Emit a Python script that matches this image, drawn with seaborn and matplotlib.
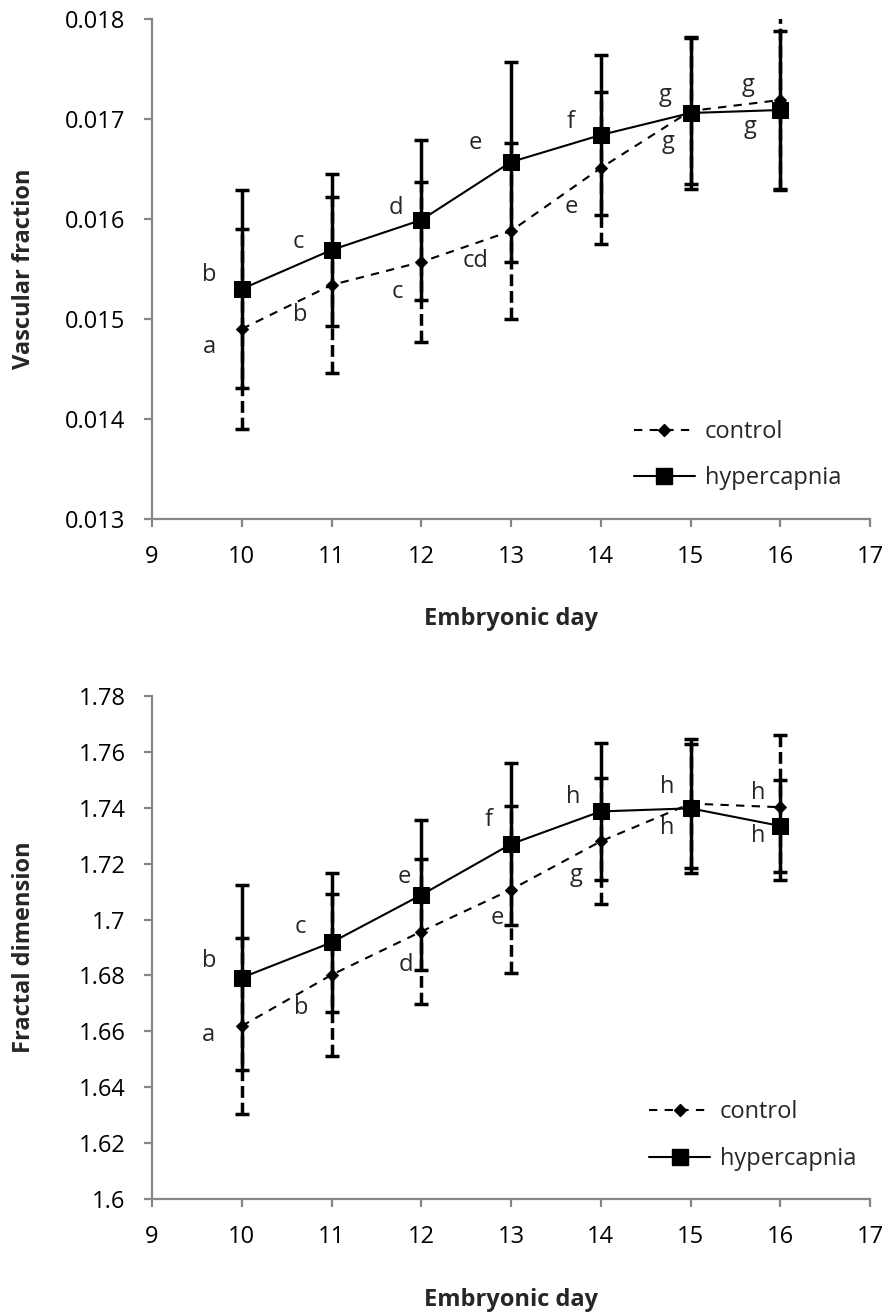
import matplotlib
matplotlib.use('Agg')
import pandas as pd
import matplotlib.pyplot as plt
from matplotlib.lines import Line2D
import seaborn as sns

# ---- data ----
days = [10, 11, 12, 13, 14, 15, 16]
groups = ['control', 'hypercapnia']

# vascular fraction (top panel)
vf_control = [0.01490, 0.01534, 0.01557, 0.01588, 0.01651, 0.01708, 0.01719]
vf_control_err = [0.00100, 0.00088, 0.00080, 0.00088, 0.00076, 0.00073, 0.00090]
vf_hyper = [0.01530, 0.01569, 0.01599, 0.01657, 0.01684, 0.01706, 0.01709]
vf_hyper_err = [0.00099, 0.00076, 0.00080, 0.00100, 0.00080, 0.00076, 0.00079]
vf_control_letters = ['a', 'b', 'c', 'cd', 'e', 'g', 'g']
vf_hyper_letters = ['b', 'c', 'd', 'e', 'f', 'g', 'g']
vf_ticks = [0.013, 0.014, 0.015, 0.016, 0.017, 0.018]
vf_ticklabels = ['0.013', '0.014', '0.015', '0.016', '0.017', '0.018']

# fractal dimension (bottom panel)
fd_control = [1.6619, 1.6802, 1.6957, 1.7107, 1.7280, 1.7415, 1.7402]
fd_control_err = [0.0315, 0.0290, 0.0260, 0.0300, 0.0225, 0.0230, 0.0260]
fd_hyper = [1.6792, 1.6918, 1.7088, 1.7270, 1.7387, 1.7398, 1.7335]
fd_hyper_err = [0.0330, 0.0250, 0.0270, 0.0290, 0.0246, 0.0230, 0.0166]
fd_control_letters = ['a', 'b', 'd', 'e', 'g', 'h', 'h']
fd_hyper_letters = ['b', 'c', 'e', 'f', 'h', 'h', 'h']
fd_ticks = [1.60, 1.62, 1.64, 1.66, 1.68, 1.70, 1.72, 1.74, 1.76, 1.78]
fd_ticklabels = ['1.6', '1.62', '1.64', '1.66', '1.68', '1.7', '1.72', '1.74', '1.76', '1.78']

day_ticks = [9, 10, 11, 12, 13, 14, 15, 16, 17]

# ---- letter placement (pixel offsets from each point) ----
vf_control_off = [(-32, -18), (-31, -30), (-24, -30), (-35, -30), (-29, -39), (-25, 16), (-32, 15)]
vf_hyper_off = [(-33, 14), (-33, 8), (-25, 12), (-36, 19), (-30, 13), (-22, -29), (-30, -17)]
fd_control_off = [(-33, -9), (-30, -33), (-15, -33), (-14, -28), (-25, -34), (-23, 17), (-22, 14)]
fd_hyper_off = [(-33, 17), (-31, 15), (-17, 18), (-22, 24), (-28, 14), (-23, -20), (-22, -10)]

sns.set_style('ticks')
plt.rcParams['font.family'] = ['Open Sans', 'DejaVu Sans']

FS = 17
GREY = '#868686'
CTRL_DASH = (4, 3.5)
W, H = 887, 1315

fig = plt.figure(figsize=(W / 100, H / 100), dpi=100)


def px_axes(left, top, right, bottom):
    return fig.add_axes([left / W, 1 - bottom / H, (right - left) / W, (bottom - top) / H])


def draw_panel(ax, ctrl, ctrl_err, hyp, hyp_err, ctrl_let, hyp_let, ctrl_off, hyp_off,
               ticks, ticklabels, ylabel, leg_xy):
    # error bars: control dashed, hypercapnia solid on top
    eb = ax.errorbar(days, ctrl, yerr=ctrl_err, fmt='none', ecolor='black',
                     elinewidth=2.5, capsize=4.8, capthick=2.5)
    eb[2][0].set_linestyle((0, (3.4, 1.4)))
    ax.errorbar(days, hyp, yerr=hyp_err, fmt='none', ecolor='black',
                elinewidth=2.5, capsize=4.8, capthick=2.5)

    df = pd.DataFrame({
        'day': days * 2,
        'value': list(ctrl) + list(hyp),
        'group': [groups[0]] * len(days) + [groups[1]] * len(days),
    })
    sns.lineplot(data=df, x='day', y='value', style='group', style_order=groups,
                 markers={'control': 'D', 'hypercapnia': 's'},
                 dashes={'control': CTRL_DASH, 'hypercapnia': ''},
                 color='black', linewidth=1.5, markeredgecolor='black',
                 errorbar=None, legend=False, ax=ax, zorder=3)
    # marker sizes per series
    lines = ax.get_lines()
    lines[-2].set_markersize(6.5)
    lines[-1].set_markersize(11)

    for d, v, t, (dx, dy) in zip(days, ctrl, ctrl_let, ctrl_off):
        ax.annotate(t, (d, v), xytext=(dx, dy), textcoords='offset pixels',
                    ha='center', va='center', fontsize=FS)
    for d, v, t, (dx, dy) in zip(days, hyp, hyp_let, hyp_off):
        ax.annotate(t, (d, v), xytext=(dx, dy), textcoords='offset pixels',
                    ha='center', va='center', fontsize=FS)

    ax.set_xlim(day_ticks[0], day_ticks[-1])
    ax.set_xticks(day_ticks)
    ax.set_ylim(ticks[0], ticks[-1])
    ax.set_yticks(ticks)
    ax.set_yticklabels(ticklabels)

    ax.set_xlabel('Embryonic day', fontsize=FS, fontweight='bold')
    ax.set_ylabel(ylabel, fontsize=FS, fontweight='bold')
    ax.xaxis.set_label_coords(0.5, -0.2)
    ax.xaxis.label.set_va('center')
    ax.yaxis.set_label_coords(-0.178, 0.5)
    ax.yaxis.label.set_va('center')

    sns.despine(ax=ax)
    for s in ['left', 'bottom']:
        ax.spines[s].set_color(GREY)
        ax.spines[s].set_linewidth(1.6)
    ax.tick_params(axis='both', length=6, width=1.6, color=GREY,
                   labelsize=FS, pad=13, labelcolor='black')
    ax.grid(False)

    handles = [
        Line2D([], [], color='black', lw=1.5, dashes=CTRL_DASH, marker='D', ms=6.5),
        Line2D([], [], color='black', lw=1.5, marker='s', ms=11),
    ]
    ax.legend(handles, groups, loc='center left', bbox_to_anchor=leg_xy, frameon=False,
              fontsize=FS, handlelength=2.6, handletextpad=0.4, labelspacing=0.95,
              borderpad=0, borderaxespad=0, numpoints=1)


ax1 = px_axes(152, 19, 870, 519)
ax2 = px_axes(152, 696, 870, 1199)

draw_panel(ax1, vf_control, vf_control_err, vf_hyper, vf_hyper_err,
           vf_control_letters, vf_hyper_letters, vf_control_off, vf_hyper_off,
           vf_ticks, vf_ticklabels, 'Vascular fraction', (0.671, 0.128))
draw_panel(ax2, fd_control, fd_control_err, fd_hyper, fd_hyper_err,
           fd_control_letters, fd_hyper_letters, fd_control_off, fd_hyper_off,
           fd_ticks, fd_ticklabels, 'Fractal dimension', (0.692, 0.126))

fig.savefig('out.png', dpi=100)
